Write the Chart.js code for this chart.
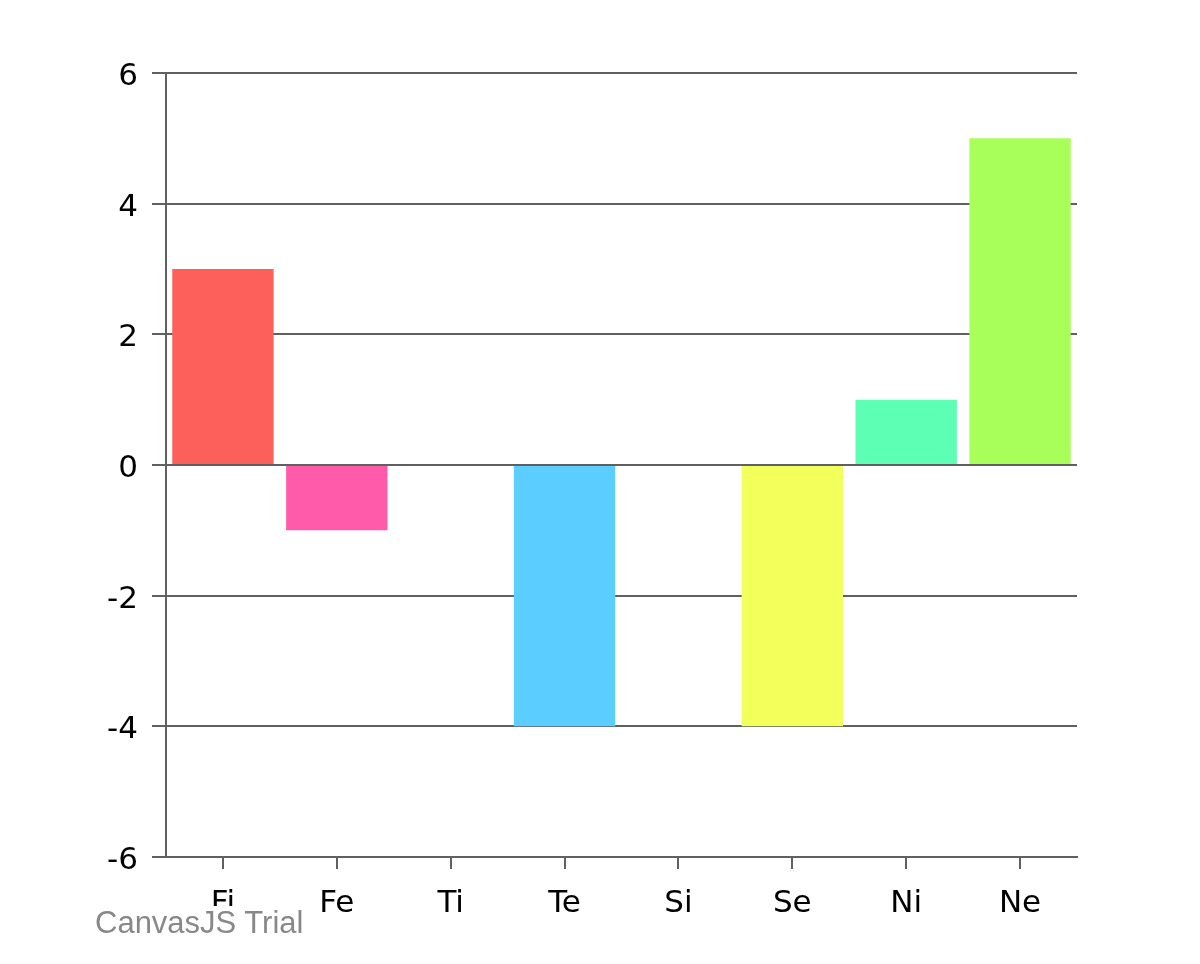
<!DOCTYPE html>
<html>
<head>
<meta charset="utf-8">
<script src="https://cdn.jsdelivr.net/npm/chart.js@4.4.0/dist/chart.umd.min.js"></script>
<style>
  html, body { margin: 0; padding: 0; background: #fff; }
  #wrap { position: relative; width: 1200px; height: 964px; }
  #trial {
    position: absolute; left: 95px; top: 906px;
    font-family: "Liberation Sans", Arial, sans-serif;
    font-size: 31px; line-height: 34px; color: #888888;
    background: #ffffff;
  }
</style>
</head>
<body>
<div id="wrap">
  <canvas id="chart" width="1200" height="964"></canvas>
  <div id="trial">CanvasJS Trial</div>
</div>
<script>
  // data
  const categories = ["Fi", "Fe", "Ti", "Te", "Si", "Se", "Ni", "Ne"];
  const values = [3, -1, 0, -4, 0, -4, 1, 5];
  const barColors = ["#FD605A", "#FF5BAA", "#FFFFFF", "#5BCEFF", "#FFFFFF", "#F3FF5A", "#5CFFB4", "#A8FF5A"];
  const yTicks = [-6, -4, -2, 0, 2, 4, 6];

  const lineColor = "#606060";
  const tickFont = { family: "'DejaVu Sans', sans-serif", size: 31 };

  const ctx = document.getElementById("chart").getContext("2d");
  new Chart(ctx, {
    type: "bar",
    data: {
      labels: categories,
      datasets: [{
        data: values,
        backgroundColor: barColors,
        borderWidth: 0,
        barPercentage: 0.89,
        categoryPercentage: 1
      }]
    },
    options: {
      responsive: false,
      animation: false,
      devicePixelRatio: 1,
      layout: { padding: { top: 73, right: 123, bottom: 0, left: 0 } },
      plugins: {
        legend: { display: false },
        tooltip: { enabled: false }
      },
      scales: {
        x: {
          offset: true,
          grid: {
            offset: false,
            drawOnChartArea: false,
            drawTicks: true,
            tickLength: 12,
            color: lineColor,
            lineWidth: 2
          },
          border: { display: true, color: lineColor, width: 2 },
          ticks: { color: "#000", font: tickFont, padding: 16, maxRotation: 0 },
          afterFit: function (scale) { scale.height = 964 - 857; }
        },
        y: {
          min: -6,
          max: 6,
          afterBuildTicks: function (scale) {
            scale.ticks = yTicks.map(v => ({ value: v }));
          },
          grid: {
            color: lineColor,
            lineWidth: 2,
            drawTicks: true,
            tickLength: 14
          },
          border: { display: true, color: lineColor, width: 2 },
          ticks: { color: "#000", font: tickFont, padding: 14, labelOffset: 4 },
          afterFit: function (scale) { scale.width = 166; }
        }
      }
    }
  });
</script>
</body>
</html>
